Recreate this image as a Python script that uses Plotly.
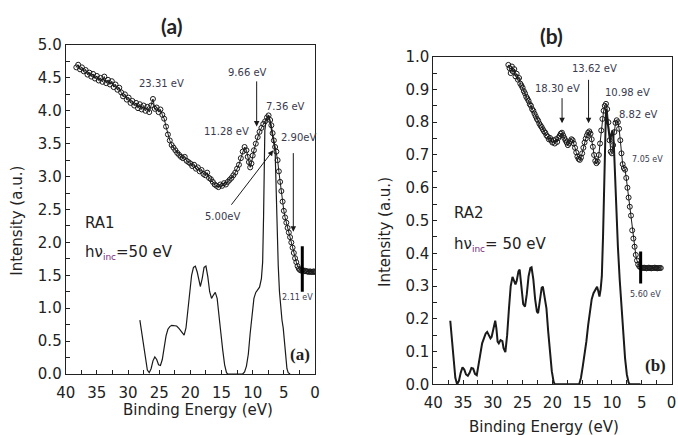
import plotly.graph_objects as go

W, H = 678, 435

# ---------------- data: panel (a) RA1 ----------------
exp_a = [(38.3, 4.66), (38.0, 4.70), (37.7, 4.63), (37.4, 4.66), (37.1, 4.60), (36.8, 4.62),
         (36.5, 4.55), (36.2, 4.58), (35.9, 4.52), (35.6, 4.56), (35.3, 4.49), (35.0, 4.53),
         (34.7, 4.46), (34.4, 4.50), (34.1, 4.44), (33.8, 4.52), (33.5, 4.42), (33.2, 4.47),
         (32.9, 4.40), (32.6, 4.45), (32.3, 4.36), (32.0, 4.40), (31.7, 4.32), (31.4, 4.35),
         (31.1, 4.28), (30.8, 4.22), (30.5, 4.25), (30.2, 4.17), (29.9, 4.20), (29.6, 4.12),
         (29.3, 4.15), (29.0, 4.08), (28.7, 4.12), (28.4, 4.04), (28.1, 4.10), (27.8, 4.02),
         (27.5, 4.08), (27.2, 4.00), (26.9, 4.06), (26.6, 3.98), (26.3, 4.08), (26.0, 4.18),
         (25.7, 4.03), (25.4, 4.05), (25.1, 3.98), (24.8, 4.02), (24.5, 3.94), (24.2, 3.88),
         (23.9, 3.76), (23.6, 3.64), (23.3, 3.55), (23.0, 3.48), (22.7, 3.44), (22.4, 3.40),
         (22.1, 3.36), (21.8, 3.33), (21.5, 3.30), (21.2, 3.28), (20.9, 3.30), (20.6, 3.24),
         (20.3, 3.22), (20.0, 3.20), (19.7, 3.16), (19.4, 3.18), (19.1, 3.12), (18.8, 3.14),
         (18.5, 3.08), (18.2, 3.10), (17.9, 3.04), (17.6, 3.02), (17.3, 3.06), (17.0, 2.98),
         (16.7, 2.96), (16.4, 2.92), (16.1, 2.88), (15.8, 2.86), (15.5, 2.84), (15.2, 2.88),
         (14.9, 2.86), (14.6, 2.90), (14.3, 2.88), (14.0, 2.92), (13.7, 2.95), (13.4, 2.98),
         (13.1, 3.02), (12.8, 3.06), (12.5, 3.12), (12.2, 3.18), (11.9, 3.28), (11.6, 3.38),
         (11.3, 3.45), (11.0, 3.40), (10.8, 3.30), (10.6, 3.22), (10.4, 3.14), (10.2, 3.20),
         (10.0, 3.32), (9.8, 3.40), (9.5, 3.50), (9.2, 3.60), (8.9, 3.68), (8.6, 3.74),
         (8.3, 3.80), (8.0, 3.84), (7.7, 3.90), (7.45, 3.93), (7.2, 3.86), (7.0, 3.78),
         (6.8, 3.66), (6.6, 3.55), (6.4, 3.45), (6.2, 3.38), (6.0, 3.25), (5.8, 3.08),
         (5.6, 2.92), (5.4, 2.78), (5.2, 2.62), (5.0, 2.48), (4.8, 2.38), (4.6, 2.30),
         (4.4, 2.22), (4.2, 2.15), (4.0, 2.08), (3.8, 2.00), (3.6, 1.92), (3.4, 1.84),
         (3.2, 1.76), (3.0, 1.70), (2.8, 1.64), (2.6, 1.60), (2.4, 1.58), (2.2, 1.57),
         (2.0, 1.58), (1.8, 1.56), (1.6, 1.57), (1.4, 1.56), (1.2, 1.56), (1.0, 1.55),
         (0.8, 1.56), (0.6, 1.55), (0.4, 1.55), (0.2, 1.56), (0.0, 1.55)]

dos_a = [(28.1, 0.82), (27.8, 0.62), (27.5, 0.38), (27.2, 0.18), (26.9, 0.06), (26.6, 0.02),
         (26.3, 0.08), (26.0, 0.20), (25.7, 0.26), (25.4, 0.22), (25.1, 0.14), (24.8, 0.13),
         (24.5, 0.22), (24.2, 0.40), (23.9, 0.58), (23.6, 0.68), (23.3, 0.72), (23.0, 0.74),
         (22.6, 0.74), (22.2, 0.73), (21.8, 0.69), (21.4, 0.64), (21.0, 0.59), (20.7, 0.70),
         (20.4, 1.00), (20.1, 1.30), (19.8, 1.50), (19.5, 1.62), (19.2, 1.64), (18.9, 1.55),
         (18.6, 1.38), (18.4, 1.33), (18.1, 1.45), (17.8, 1.62), (17.5, 1.64), (17.2, 1.48),
         (16.9, 1.25), (16.6, 1.15), (16.3, 1.20), (16.0, 1.24), (15.7, 1.15), (15.4, 0.92),
         (15.1, 0.62), (14.8, 0.36), (14.5, 0.14), (14.2, 0.02), (14.0, 0.00), (11.6, 0.00),
         (11.3, 0.03), (11.0, 0.12), (10.7, 0.30), (10.4, 0.62), (10.1, 0.95), (9.8, 1.15),
         (9.5, 1.24), (9.2, 1.28), (8.9, 1.32), (8.6, 1.45), (8.4, 1.70), (8.25, 2.40),
         (8.15, 3.20), (8.05, 3.70), (7.85, 3.85), (7.6, 3.90), (7.45, 3.93), (7.3, 3.88),
         (7.1, 3.75), (6.9, 3.65), (6.6, 3.50), (6.4, 3.40), (6.3, 3.00), (6.2, 2.40),
         (6.05, 2.00), (5.9, 1.65), (5.7, 1.25), (5.5, 0.98), (5.3, 0.82), (5.1, 0.70),
         (4.9, 0.45), (4.7, 0.22), (4.5, 0.08), (4.3, 0.02), (4.0, 0.00)]

# ---------------- data: panel (b) RA2 ----------------
exp_b = [(27.4, 0.975), (27.2, 0.965), (27.0, 0.950), (26.8, 0.970), (26.6, 0.955), (26.4, 0.962),
         (26.2, 0.940), (26.0, 0.948), (25.8, 0.930), (25.6, 0.935), (25.4, 0.918), (25.2, 0.912),
         (25.0, 0.905), (24.8, 0.895), (24.6, 0.888), (24.4, 0.878), (24.2, 0.872), (24.0, 0.865),
         (23.8, 0.855), (23.6, 0.850), (23.4, 0.840), (23.2, 0.835), (23.0, 0.826), (22.8, 0.818),
         (22.6, 0.810), (22.4, 0.805), (22.2, 0.796), (22.0, 0.790), (21.8, 0.785), (21.6, 0.778),
         (21.4, 0.772), (21.2, 0.768), (21.0, 0.760), (20.8, 0.756), (20.6, 0.748), (20.4, 0.752),
         (20.2, 0.744), (20.0, 0.738), (19.8, 0.745), (19.6, 0.735), (19.4, 0.748), (19.2, 0.740),
         (19.0, 0.752), (18.8, 0.758), (18.6, 0.765), (18.4, 0.768), (18.2, 0.760), (18.0, 0.752),
         (17.8, 0.745), (17.6, 0.738), (17.4, 0.730), (17.2, 0.735), (17.0, 0.742), (16.8, 0.748),
         (16.6, 0.745), (16.4, 0.735), (16.2, 0.722), (16.0, 0.708), (15.8, 0.695), (15.6, 0.688),
         (15.4, 0.685), (15.2, 0.692), (15.0, 0.705), (14.8, 0.722), (14.6, 0.738), (14.4, 0.750),
         (14.2, 0.760), (14.0, 0.768), (13.8, 0.772), (13.6, 0.765), (13.4, 0.748), (13.2, 0.725),
         (13.0, 0.700), (12.8, 0.682), (12.6, 0.675), (12.4, 0.680), (12.2, 0.700), (12.0, 0.735),
         (11.8, 0.775), (11.6, 0.810), (11.4, 0.835), (11.2, 0.850), (11.0, 0.856), (10.8, 0.840),
         (10.6, 0.800), (10.4, 0.745), (10.2, 0.710), (10.0, 0.705), (9.8, 0.730), (9.6, 0.770),
         (9.4, 0.798), (9.2, 0.806), (9.0, 0.800), (8.8, 0.780), (8.6, 0.745), (8.4, 0.705),
         (8.2, 0.672), (8.0, 0.660), (7.8, 0.655), (7.6, 0.630), (7.4, 0.600), (7.2, 0.570),
         (7.0, 0.542), (6.8, 0.515), (6.6, 0.470), (6.4, 0.445), (6.2, 0.420), (6.0, 0.395),
         (5.8, 0.378), (5.6, 0.366), (5.4, 0.360), (5.2, 0.357), (5.0, 0.356), (4.8, 0.355),
         (4.6, 0.356), (4.4, 0.355), (4.2, 0.354), (4.0, 0.355), (3.8, 0.356), (3.6, 0.355),
         (3.4, 0.354), (3.2, 0.355), (3.0, 0.355), (2.8, 0.356), (2.6, 0.355), (2.4, 0.354),
         (2.2, 0.355), (2.0, 0.355), (1.8, 0.355)]

dos_b = [(37.15, 0.194), (36.9, 0.140), (36.6, 0.070), (36.3, 0.020), (36.0, 0.000), (35.7, 0.010),
         (35.4, 0.035), (35.1, 0.052), (34.8, 0.045), (34.5, 0.030), (34.2, 0.026), (33.9, 0.035),
         (33.6, 0.050), (33.3, 0.048), (33.0, 0.032), (32.7, 0.028), (32.4, 0.060), (32.1, 0.100),
         (31.8, 0.125), (31.5, 0.140), (31.2, 0.155), (30.95, 0.160), (30.7, 0.148), (30.4, 0.140),
         (30.2, 0.145), (29.9, 0.170), (29.6, 0.194), (29.4, 0.170), (29.2, 0.130), (29.0, 0.125),
         (28.7, 0.135), (28.4, 0.132), (28.2, 0.110), (27.9, 0.098), (27.6, 0.150), (27.3, 0.230),
         (27.0, 0.300), (26.7, 0.328), (26.5, 0.320), (26.2, 0.305), (26.0, 0.315), (25.7, 0.345),
         (25.5, 0.350), (25.2, 0.300), (24.9, 0.245), (24.6, 0.237), (24.3, 0.275), (24.0, 0.330),
         (23.7, 0.355), (23.5, 0.357), (23.2, 0.320), (22.9, 0.260), (22.6, 0.222), (22.4, 0.217),
         (22.1, 0.255), (21.8, 0.295), (21.6, 0.298), (21.3, 0.270), (21.0, 0.232), (20.7, 0.160),
         (20.4, 0.095), (20.1, 0.040), (19.8, 0.008), (19.6, 0.000), (15.5, 0.000), (15.2, 0.020),
         (14.9, 0.055), (14.6, 0.090), (14.3, 0.130), (14.0, 0.180), (13.7, 0.230), (13.4, 0.260),
         (13.1, 0.278), (12.8, 0.288), (12.5, 0.298), (12.3, 0.285), (12.1, 0.268), (11.9, 0.290),
         (11.7, 0.330), (11.5, 0.450), (11.3, 0.600), (11.15, 0.760), (11.0, 0.840), (10.8, 0.810),
         (10.5, 0.760), (10.3, 0.740), (10.1, 0.765), (9.9, 0.775), (9.7, 0.740), (9.5, 0.640),
         (9.3, 0.540), (9.0, 0.420), (8.7, 0.320), (8.4, 0.240), (8.1, 0.150), (7.8, 0.080),
         (7.5, 0.030), (7.2, 0.005), (7.0, 0.000), (5.2, 0.000)]

# peak labels: (text, energy, intensity, size)
labels_a = [("23.31 eV", 24.7, 4.42, 10), ("9.66 eV", 10.8, 4.58, 10), ("7.36 eV", 4.8, 4.06, 10),
            ("11.28 eV", 14.2, 3.68, 10), ("2.90eV", 2.7, 3.60, 10), ("5.00eV", 14.9, 2.40, 10),
            ("2.11 eV", 2.8, 1.16, 8)]
labels_b = [("18.30 eV", 19.2, 0.903, 10), ("13.62 eV", 13.0, 0.965, 10), ("10.98 eV", 7.4, 0.891, 10),
            ("8.82 eV", 5.6, 0.825, 10), ("7.05 eV", 4.0, 0.687, 8), ("5.60 eV", 4.3, 0.273, 8)]
# arrows: (head E, head I, tail E, tail I)
arrows_a = [(9.36, 3.76, 9.36, 4.47), (3.48, 2.16, 3.48, 3.38), (6.7, 3.40, 13.6, 2.55)]
arrows_b = [(18.38, 0.797, 18.38, 0.878), (13.93, 0.797, 13.93, 0.934)]
# onset markers: (E, I low, I high)
onset_a = (2.04, 1.25, 1.94)
onset_b = (5.18, 0.308, 0.405)

x_ticks = [40, 35, 30, 25, 20, 15, 10, 5, 0]

FONT = "DejaVu Sans"
INK = "#1a1a1a"
LBL = "#3a3a4e"


def unzip(p):
    return [a for a, _ in p], [b for _, b in p]


fig = go.Figure()

for exp, dos, xa, ya, dw in [(exp_a, dos_a, "x", "y", 1.2), (exp_b, dos_b, "x2", "y2", 2.0)]:
    ex, ey = unzip(exp)
    dx, dy = unzip(dos)
    fig.add_trace(go.Scatter(x=dx, y=dy, xaxis=xa, yaxis=ya, mode="lines",
                             line=dict(color=INK, width=dw), showlegend=False))
    fig.add_trace(go.Scatter(x=ex, y=ey, xaxis=xa, yaxis=ya, mode="lines+markers",
                             line=dict(color=INK, width=1),
                             marker=dict(symbol="circle-open", size=5, color=INK, line=dict(width=1)),
                             showlegend=False))


def P(x, y):
    return x / W, 1 - y / H


def axis(domain, rng, dtick, minor, anchor, fmt=None):
    d = dict(domain=domain, range=rng, dtick=dtick, tick0=0, anchor=anchor, automargin=False,
             showline=True, linecolor="#222", linewidth=1, mirror=True,
             ticks="inside", ticklen=4, tickcolor="#222", tickwidth=1,
             showgrid=False, zeroline=False, ticklabeloverflow="allow",
             tickfont=dict(family=FONT, size=15, color="#222"),
             minor=dict(ticks="inside", ticklen=4, tickcolor="#222", dtick=minor, tick0=0, showgrid=False))
    if fmt:
        d["tickformat"] = fmt
    return d


xa_dom = [65.7 / W, 315 / W]
ya_dom = [(H - 374) / H, (H - 45) / H]
xb_dom = [433.3 / W, 671.5 / W]
yb_dom = [(H - 384.3) / H, (H - 56.7) / H]

fig.update_layout(
    width=W, height=H, margin=dict(l=0, r=0, t=0, b=0, autoexpand=False),
    paper_bgcolor="white", plot_bgcolor="white",
    xaxis=axis(xa_dom, [40, 0], 5, 2.5, "y"),
    yaxis=axis(ya_dom, [0, 5], 0.5, 0.25, "x", ".1f"),
    xaxis2=axis(xb_dom, [40, -0.0001], 5, 2.5, "y2"),
    yaxis2=axis(yb_dom, [0, 1], 0.1, 0.05, "x2", ".1f"),
)
fig.update_xaxes(tickvals=x_ticks, ticklabelstandoff=5)

ann = []
for labels, xr, yr in [(labels_a, "x", "y"), (labels_b, "x2", "y2")]:
    for t, e, i, s in labels:
        ann.append(dict(x=e, y=i, xref=xr, yref=yr, text=t, showarrow=False,
                        font=dict(family=FONT, size=s, color=LBL)))
for arrows, xr, yr in [(arrows_a, "x", "y"), (arrows_b, "x2", "y2")]:
    for hx, hy, tx, ty in arrows:
        ann.append(dict(x=hx, y=hy, ax=tx, ay=ty, xref=xr, yref=yr, axref=xr, ayref=yr,
                        text="", showarrow=True, arrowhead=2, arrowsize=1.1, arrowwidth=1,
                        arrowcolor=INK))


def txt(x, y, t, size, xanchor="center", family=FONT, color="#222", angle=0):
    px, py = P(x, y)
    ann.append(dict(x=px, y=py, xref="paper", yref="paper", text=t, showarrow=False,
                    xanchor=xanchor, yanchor="middle", textangle=angle,
                    font=dict(family=family, size=size, color=color)))


sub = "<sub><span style='color:#7a2a7a;font-size:9px'>inc</span></sub>"
txt(171.7, 26, "<b>(a)</b>", 21, family="Lato")
txt(551.7, 35, "<b>(b)</b>", 21, family="Lato")
txt(83, 223.3, "RA1", 15, xanchor="left")
txt(83, 252, "hν" + sub + "=50 eV", 15, xanchor="left")
txt(451.7, 213.3, "RA2", 15, xanchor="left")
txt(451.7, 244, "hν" + sub + "= 50 eV", 15, xanchor="left")
txt(300, 354, "<b>(a)</b>", 17, family="Liberation Serif")
txt(655, 365, "<b>(b)</b>", 17, family="Liberation Serif")
txt(198, 410, "Binding Energy (eV)", 15)
txt(544, 427, "Binding Energy (eV)", 15)
txt(16.7, 221, "Intensity (a.u.)", 15, angle=-90)
txt(385, 232, "Intensity (a.u.)", 15, angle=-90)

shapes = []
for (e, lo, hi), xr, yr in [(onset_a, "x", "y"), (onset_b, "x2", "y2")]:
    shapes.append(dict(type="line", xref=xr, yref=yr, x0=e, x1=e, y0=lo, y1=hi,
                       line=dict(color="#000", width=3)))

fig.update_layout(annotations=ann, shapes=shapes)
fig.write_html("out.html", config={"displayModeBar": False},
               post_script="document.body.style.margin='0';document.body.style.overflow='hidden';")
